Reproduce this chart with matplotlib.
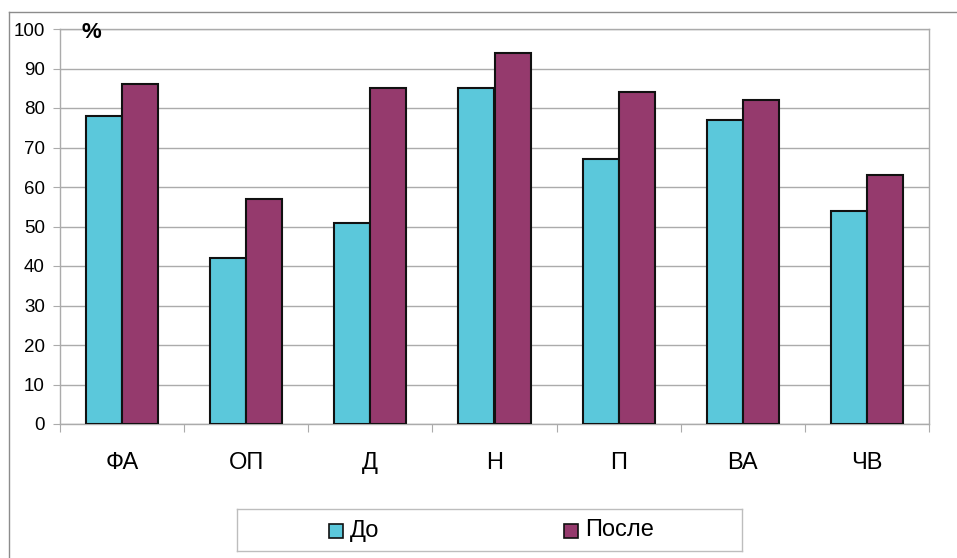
import numpy as np
import matplotlib
matplotlib.use("Agg")
from matplotlib import pyplot as plt
from matplotlib.patches import Rectangle

plt.rcParams['font.family'] = ['Liberation Sans', 'DejaVu Sans']

categories = ['ФА', 'ОП', 'Д', 'Н', 'П', 'ВА', 'ЧВ']
before = [78, 42, 51, 85, 67, 77, 54]
after = [86, 57, 85, 94, 84, 82, 63]
series_names = ['До', 'После']

c_before = '#5BC8DB'
c_after = '#953A6D'
grid_c = '#ABABAB'

W, H = 957, 558
fig = plt.figure(figsize=(W / 100, H / 100), dpi=100)

# внешняя рамка диаграммы
fig.add_artist(plt.Line2D([9 / W, 9 / W], [0, 1 - 12 / H], transform=fig.transFigure,
                          color='#8C8C8C', lw=1))
fig.add_artist(plt.Line2D([9 / W, 1], [1 - 12 / H, 1 - 12 / H], transform=fig.transFigure,
                          color='#8C8C8C', lw=1))

# область построения
left, right, top, bottom = 60, 929, 29, 424
ax = fig.add_axes([left / W, 1 - bottom / H, (right - left) / W, (bottom - top) / H])

x = np.arange(len(categories))
w = 0.29
ax.bar(x - w / 2, before, width=w, color=c_before, edgecolor='#111111', linewidth=1.5,
       label=series_names[0], zorder=3)
ax.bar(x + w / 2, after, width=w, color=c_after, edgecolor='#111111', linewidth=1.5,
       label=series_names[1], zorder=3)

ax.set_xlim(-0.5, len(categories) - 0.5)
ax.set_ylim(0, 100)
ax.set_yticks(range(0, 101, 10))
ax.yaxis.grid(True, color=grid_c, linewidth=1, zorder=0)
ax.set_axisbelow(True)

ax.set_xticks(np.arange(-0.5, len(categories), 1))
ax.set_xticklabels([])
ax.set_xticks(x, minor=True)
ax.set_xticklabels(categories, minor=True, fontsize=17)
ax.tick_params(axis='x', which='minor', length=0, pad=20)
ax.tick_params(axis='x', which='major', length=6, color=grid_c, direction='out')
ax.tick_params(axis='y', length=5, color=grid_c, labelsize=13.5, pad=6)

for s in ['left', 'right', 'top', 'bottom']:
    ax.spines[s].set_color(grid_c)
    ax.spines[s].set_linewidth(1)

# подпись единиц над осью
fig.text(82 / W, 1 - 22 / H, '%', fontsize=16, fontweight='bold', va='top', ha='left')

# легенда в рамке под диаграммой
lax = fig.add_axes([237 / W, 1 - 551 / H, (742 - 237) / W, 42 / H])
lax.set_xlim(0, 505)
lax.set_ylim(42, 0)
lax.set_xticks([])
lax.set_yticks([])
for s in lax.spines.values():
    s.set_color('#BDBDBD')
    s.set_linewidth(1)
for xpos, col, name in [(92, c_before, series_names[0]), (327, c_after, series_names[1])]:
    lax.add_patch(Rectangle((xpos, 14.5), 14, 14, facecolor=col, edgecolor='#111111', lw=1.2))
    lax.text(xpos + 21, 21.5, name, fontsize=17, va='center', ha='left')

fig.savefig('out.png', dpi=100)
